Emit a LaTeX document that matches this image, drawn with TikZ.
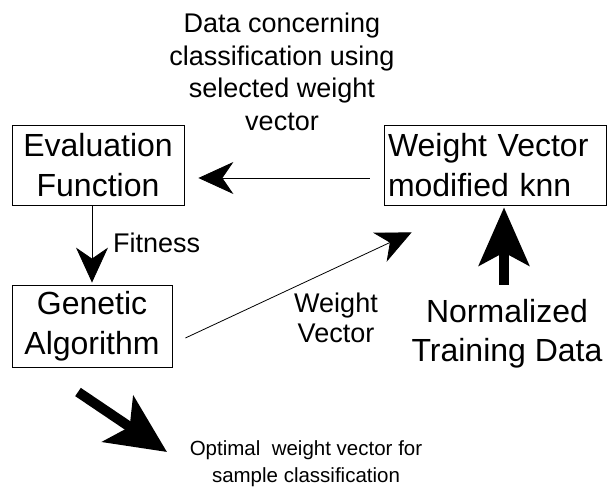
\documentclass[tikz,border=0pt]{standalone}
\usepackage{fontspec}
\setmainfont{Liberation Sans}
\usetikzlibrary{arrows.meta,positioning,calc}

\begin{document}
\begin{tikzpicture}[x=1pt,y=-1pt,
  box/.style={draw,line width=0.8pt,inner sep=0pt,align=center,font=\fontsize{32}{40}\selectfont},
  note/.style={inner sep=0pt,align=center,font=\fontsize{27}{32.5}\selectfont},
  thinarrow/.style={line width=0.8pt,-{Stealth[length=35pt,width=32pt,inset=11pt]}},
  fatarrow/.style={line width=10pt,-{Stealth[length=58pt,width=50pt,inset=13pt]}}]
  \useasboundingbox (0,0) rectangle (608,494);
  \node[box,minimum width=172pt,minimum height=80pt] (eval) at (98,165) {Evaluation\\Function}; % 評価関数
  \node[box,minimum width=160pt,minimum height=82pt] (ga) at (92,326) {Genetic\\Algorithm}; % 遺伝的アルゴリズム
  \node[box,minimum width=222pt,minimum height=80pt,text width=214pt,align=left] (knn) at (495,165) {Weight Vector\\modified knn}; % 重み付き knn
  \node[note,anchor=north] (data) at (282,13) {Data concerning\\classification using\\selected weight\\vector}; % 上の説明
  \node[note,anchor=base west] (fit) at (113,253) {Fitness};
  \node[note,anchor=north,font=\fontsize{27}{30}\selectfont] (wv) at (336,293) {Weight\\Vector};
  \node[note,anchor=north,font=\fontsize{32}{39}\selectfont] (norm) at (507,299) {Normalized\\Training Data}; % 入力データ
  \node[note,anchor=north,font=\fontsize{20.5}{27}\selectfont] (opt) at (306,440) {Optimal\ \ weight vector for\\sample classification}; % 出力
  \draw[thinarrow] ($(knn.west)+(-14,13)$) -- ($(eval.east)+(14,13)$); % knn から評価関数へ
  \draw[thinarrow] (eval.south -| ga.north) -- ([yshift=2pt]ga.north); % 適応度
  \draw[thinarrow] ($(ga.east)+(13,12)$) -- ($(knn.south west)+(28,27)$); % 重みベクトル
  \coordinate (ntail) at ($(norm.north)+(-3,-14)$);
  \draw[fatarrow] (ntail) -- ([yshift=-2pt]knn.south -| ntail); % 太い矢印（上向き）
  \coordinate (otail) at (78,392);
  \coordinate (otip) at (167,452);
  \draw[fatarrow,-{Stealth[length=59pt,width=55pt,inset=14pt]}] (otail) -- (otip); % 太い矢印（右下）
\end{tikzpicture}
\end{document}
